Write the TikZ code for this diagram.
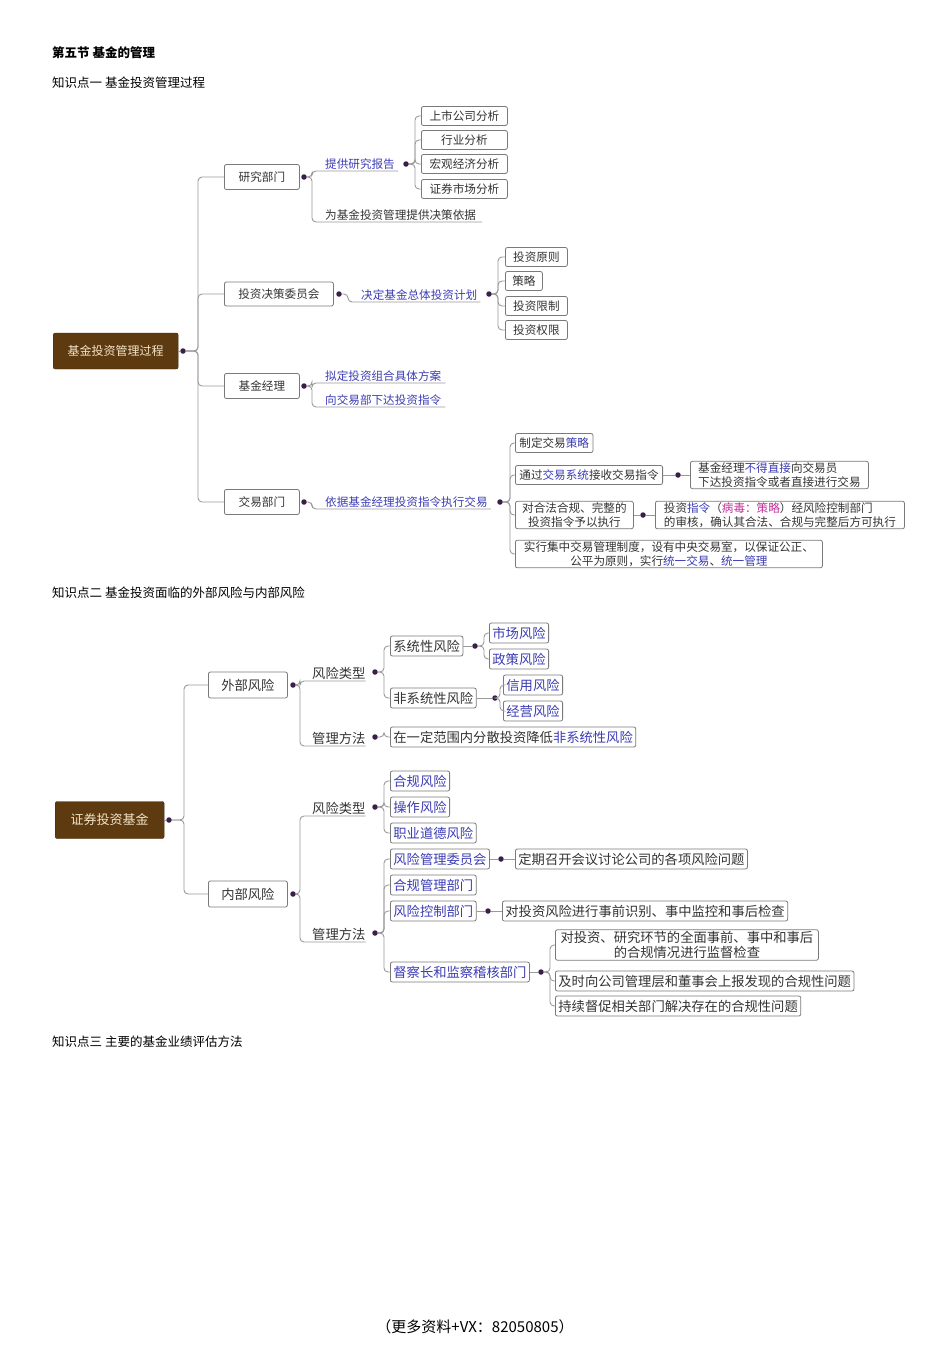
\documentclass[tikz,border=0pt]{standalone}
\usepackage{fontspec}
\setmainfont{Noto Sans CJK SC}
\definecolor{lc}{HTML}{9A9A9A}
\definecolor{bc}{HTML}{7A7A7A}
\definecolor{dc}{HTML}{3A1F48}
\definecolor{bl}{HTML}{3C3CB4}
\definecolor{mg}{HTML}{C0309A}
\definecolor{rootf}{HTML}{5E3A10}
\definecolor{roott}{HTML}{F2E4C8}
\definecolor{tx}{HTML}{333333}
\newcommand{\fa}{\fontsize{11.6}{13.5}\selectfont}
\newcommand{\fb}{\fontsize{13.3}{15}\selectfont}
\tikzset{
 ln/.style={draw=lc, line width=0.9pt, rounded corners=4pt},
 bx/.style={draw=bc, line width=0.8pt, rounded corners=2pt, fill=white, anchor=west, inner xsep=4pt, inner ysep=1.5pt, minimum height=19pt, text=tx, font=\fa},
 bxb/.style={bx, font=\fb, minimum height=20pt, inner xsep=3pt},
 dt/.style={circle, fill=dc, inner sep=0pt, minimum size=5.5pt},
 lb/.style={anchor=south west, inner xsep=0pt, inner ysep=1.5pt, text=tx, font=\fa},
 lbb/.style={lb, font=\fb},
 root/.style={draw=rootf!70!black, fill=rootf, rounded corners=2pt, text=roott, anchor=west, minimum height=36pt, font=\fontsize{12}{14}\selectfont},
 hd/.style={anchor=west, inner sep=0pt, font=\fontsize{12.5}{14}\selectfont},
}
\begin{document}
\begin{tikzpicture}[x=1pt,y=-1pt]
\useasboundingbox (0,0) rectangle (950,1345);
\node[hd] (h1) at (52,53) {\textbf{第五节 基金的管理}};
\node[hd] (h2) at (52,83) {知识点一 基金投资管理过程};
\node[hd] (h3) at (52,593) {知识点二 基金投资面临的外部风险与内部风险};
\node[hd] (h4) at (52,1042) {知识点三 主要的基金业绩评估方法};
\node[anchor=center, font=\fontsize{15}{17}\selectfont] (ft) at (475,1327) {（更多资料+VX：82050805）};

% ===== Part 1 =====
\node[root, minimum width=125pt] (r1) at (53,351) {基金投资管理过程};
\node[dt] (r1d) at (183,351) {};
\draw[ln] (r1.east) -- (r1d);
\coordinate (t1) at (198,0);
\node[bx, minimum width=75pt, minimum height=25pt] (a1) at (224,177) {研究部门};
\node[bx, minimum width=109pt, minimum height=24pt] (a2) at (224,294) {投资决策委员会};
\node[bx, minimum width=75pt, minimum height=25pt] (a3) at (224,386) {基金经理};
\node[bx, minimum width=75pt, minimum height=25pt] (a4) at (224,502) {交易部门};
\foreach \c in {a1,a2,a3,a4} \draw[ln] (r1d) -- (r1d -| t1) |- (\c.west);

% 研究部门
\node[dt] (a1d) at (304,177) {};
\coordinate (v1) at (312,0);
\node[lb, text=bl] (l11) at (325,171) {提供研究报告};
\node[lb] (l12) at (325,222) {为基金投资管理提供决策依据};
\draw[ln] (a1d) -- (a1d -| v1) |- (l11.south west) -- ([xshift=3pt]l11.south east);
\draw[ln] (a1d) -- (a1d -| v1) |- (l12.south west) -- ([xshift=6pt]l12.south east);
\node[dt] (l11d) at (406,164) {};
\coordinate (v11) at (415,0);
\node[bx, minimum width=86pt] (b1) at (421,116) {上市公司分析};
\node[bx, minimum width=86pt] (b2) at (421,140) {行业分析};
\node[bx, minimum width=86pt] (b3) at (421,164) {宏观经济分析};
\node[bx, minimum width=86pt] (b4) at (421,189) {证券市场分析};
\foreach \c in {b1,b2,b3,b4} \draw[ln] (l11d) -- (l11d -| v11) |- (\c.west);

% 投资决策委员会
\node[dt] (a2d) at (339,294) {};
\coordinate (v2) at (348,0);
\node[lb, text=bl] (l21) at (361,302) {决定基金总体投资计划};
\draw[ln] (a2d) -- (a2d -| v2) |- (l21.south west) -- ([xshift=3pt]l21.south east);
\node[dt] (l21d) at (489,294) {};
\coordinate (v21) at (498,0);
\node[bx, minimum width=62pt] (c1) at (505,257) {投资原则};
\node[bx, minimum width=37pt] (c2) at (505,281) {策略};
\node[bx, minimum width=62pt] (c3) at (505,306) {投资限制};
\node[bx, minimum width=62pt] (c4) at (505,330) {投资权限};
\foreach \c in {c1,c2,c3,c4} \draw[ln] (l21d) -- (l21d -| v21) |- (\c.west);

% 基金经理
\node[dt] (a3d) at (304,386) {};
\coordinate (v3) at (312,0);
\node[lb, text=bl] (l31) at (325,383) {拟定投资组合具体方案};
\node[lb, text=bl] (l32) at (325,407) {向交易部下达投资指令};
\draw[ln] (a3d) -- (a3d -| v3) |- (l31.south west) -- ([xshift=4pt]l31.south east);
\draw[ln] (a3d) -- (a3d -| v3) |- (l32.south west) -- ([xshift=4pt]l32.south east);

% 交易部门
\node[dt] (a4d) at (304,502) {};
\coordinate (v4) at (312,0);
\node[lb, text=bl] (l41) at (325,509) {依据基金经理投资指令执行交易};
\draw[ln] (a4d) -- (a4d -| v4) |- (l41.south west) -- ([xshift=3pt]l41.south east);
\node[dt] (l41d) at (500,502) {};
\coordinate (v41) at (510,0);
\node[bx] (e1) at (515,443) {制定交易\textcolor{bl}{策略}};
\node[bx] (e2) at (515,475) {通过\textcolor{bl}{交易系统}接收交易指令};
\node[bx, align=center, minimum width=118pt] (e3) at (515,515) {对合法合规、完整的\\投资指令予以执行};
\node[bx, align=center, minimum width=307pt] (e4) at (515,554) {实行集中交易管理制度，设有中央交易室，以保证公正、\\公平为原则，实行\textcolor{bl}{统一交易}、\textcolor{bl}{统一管理}};
\foreach \c in {e1,e2,e3,e4} \draw[ln] (l41d) -- (l41d -| v41) |- (\c.west);
\node[dt] (e2d) at (678,475) {};
\draw[ln] (e2.east) -- (e2d);
\node[bx, align=left, minimum width=178pt] (f1) at (690,475) {基金经理\textcolor{bl}{不得直接}向交易员\\下达投资指令或者直接进行交易};
\draw[ln] (e2d) -- (f1.west);
\node[dt] (e3d) at (643,515) {};
\draw[ln] (e3.east) -- (e3d);
\node[bx, align=left, minimum width=249pt] (f2) at (655,515) {投资\textcolor{bl}{指令}（\textcolor{mg}{病毒：策略}）经风险控制部门\\的审核，确认其合法、合规与完整后方可执行};
\draw[ln] (e3d) -- (f2.west);

% ===== Part 2 =====
\node[root, minimum width=109pt, minimum height=37pt, font=\fontsize{13}{15}\selectfont] (r2) at (55,820) {证券投资基金};
\node[dt] (r2d) at (169,820) {};
\draw[ln] (r2.east) -- (r2d);
\coordinate (t2) at (184,0);
\node[bxb, minimum width=79pt, minimum height=26pt] (g1) at (208,685) {外部风险};
\node[bxb, minimum width=79pt, minimum height=26pt] (g2) at (208,894) {内部风险};
\foreach \c in {g1,g2} \draw[ln] (r2d) -- (r2d -| t2) |- (\c.west);

% 外部风险
\node[dt] (g1d) at (293,685) {};
\coordinate (w1) at (300,0);
\node[lbb] (m1) at (312,681) {风险类型};
\node[lbb] (m2) at (312,746) {管理方法};
\node[dt] (m1d) at (375,672) {};
\node[dt] (m2d) at (375,737) {};
\draw[ln] (g1d) -- (g1d -| w1) |- (m1.south west) -- (m1.south east);
\draw[ln] (g1d) -- (g1d -| w1) |- (m2.south west) -- (m2.south east);
\coordinate (w11) at (384,0);
\node[bxb] (n1) at (390,646) {系统性风险};
\node[bxb] (n2) at (390,698) {非系统性风险};
\foreach \c in {n1,n2} \draw[ln] (m1d) -- (m1d -| w11) |- (\c.west);
\node[dt] (n1d) at (475,646) {};
\node[dt] (n2d) at (495,698) {};
\draw[ln] (n1.east) -- (n1d);
\draw[ln] (n2.east) -- (n2d);
\coordinate (w12) at (484,0);
\coordinate (w13) at (500,0);
\node[bxb, text=bl] (o1) at (489,633) {市场风险};
\node[bxb, text=bl] (o2) at (489,659) {政策风险};
\node[bxb, text=bl] (o3) at (503,685) {信用风险};
\node[bxb, text=bl] (o4) at (503,711) {经营风险};
\foreach \c in {o1,o2} \draw[ln] (n1d) -- (n1d -| w12) |- (\c.west);
\foreach \c in {o3,o4} \draw[ln] (n2d) -- (n2d -| w13) |- (\c.west);
\node[bxb] (o5) at (390,737) {在一定范围内分散投资降低\textcolor{bl}{非系统性风险}};
\draw[ln] (m2d) -- (m2d -| w11) |- (o5.west);

% 内部风险
\node[dt] (g2d) at (293,894) {};
\node[lbb] (p1) at (312,816) {风险类型};
\node[lbb] (p2) at (312,942) {管理方法};
\node[dt] (p1d) at (375,807) {};
\node[dt] (p2d) at (375,933) {};
\draw[ln] (g2d) -- (g2d -| w1) |- (p1.south west) -- (p1.south east);
\draw[ln] (g2d) -- (g2d -| w1) |- (p2.south west) -- (p2.south east);
\node[bxb, text=bl] (q1) at (390,781) {合规风险};
\node[bxb, text=bl] (q2) at (390,807) {操作风险};
\node[bxb, text=bl] (q3) at (390,833) {职业道德风险};
\foreach \c in {q1,q2,q3} \draw[ln] (p1d) -- (p1d -| w11) |- (\c.west);
\node[bxb, text=bl] (s1) at (390,859) {风险管理委员会};
\node[bxb, text=bl] (s2) at (390,885) {合规管理部门};
\node[bxb, text=bl] (s3) at (390,911) {风险控制部门};
\node[bxb, text=bl] (s4) at (390,972) {督察长和监察稽核部门};
\foreach \c in {s1,s2,s3,s4} \draw[ln] (p2d) -- (p2d -| w11) |- (\c.west);
\node[dt] (s1d) at (501,859) {};
\node[dt] (s3d) at (488,911) {};
\node[dt] (s4d) at (541,972) {};
\draw[ln] (s1.east) -- (s1d);
\draw[ln] (s3.east) -- (s3d);
\draw[ln] (s4.east) -- (s4d);
\node[bxb] (u1) at (515,859) {定期召开会议讨论公司的各项风险问题};
\node[bxb] (u2) at (502,911) {对投资风险进行事前识别、事中监控和事后检查};
\draw[ln] (s1d) -- (u1.west);
\draw[ln] (s3d) -- (u2.west);
\coordinate (w4) at (550,0);
\node[bxb, align=center, minimum width=263pt] (x1) at (555,945) {对投资、研究环节的全面事前、事中和事后\\的合规情况进行监督检查};
\node[bxb] (x2) at (555,981) {及时向公司管理层和董事会上报发现的合规性问题};
\node[bxb] (x3) at (555,1006) {持续督促相关部门解决存在的合规性问题};
\foreach \c in {x1,x2,x3} \draw[ln] (s4d) -- (s4d -| w4) |- (\c.west);
\end{tikzpicture}
\end{document}
